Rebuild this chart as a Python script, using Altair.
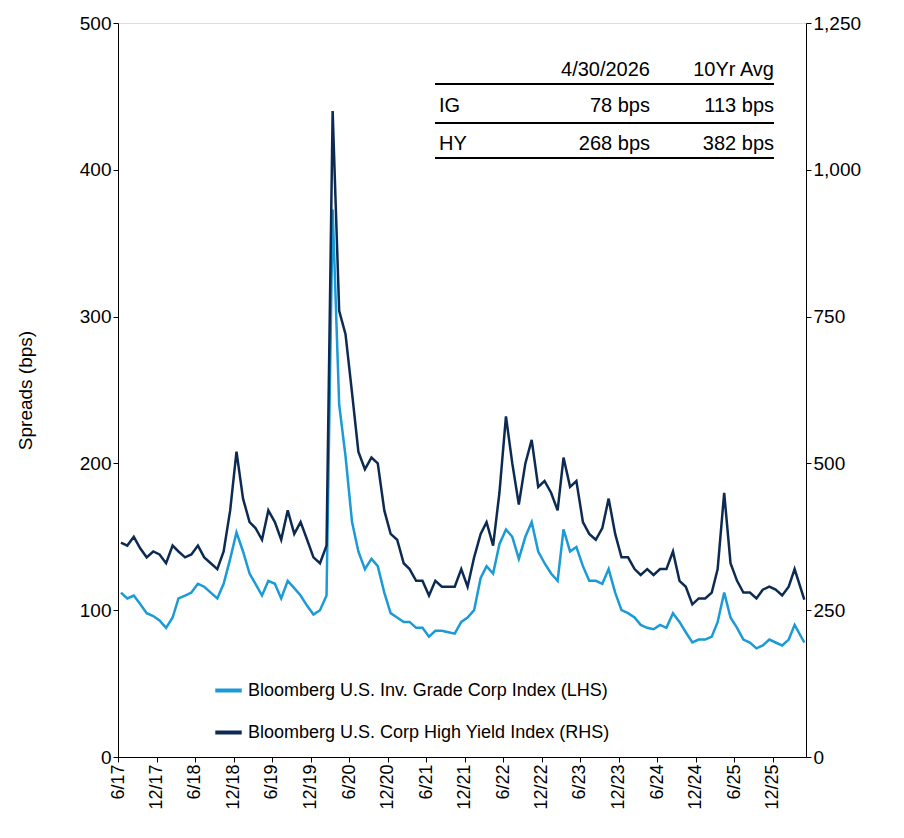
import altair as alt
import pandas as pd

# monthly spread readings, Jun 2017 - Apr 2026
ig = [112, 108, 110, 104, 98, 96, 93,
      88, 95, 108, 110, 112, 118, 116, 112, 108, 118, 135, 153,
      140, 125, 118, 110, 120, 118, 108, 120, 115, 110, 103, 97,
      100, 110, 373, 240, 205, 160, 140, 128, 135, 130, 112, 98,
      95, 92, 92, 88, 88, 82, 86, 86, 85, 84, 92, 95,
      100, 122, 130, 125, 145, 155, 150, 135, 150, 160, 140, 132,
      125, 120, 155, 140, 143, 130, 120, 120, 118, 128, 112, 100,
      98, 95, 90, 88, 87, 90, 88, 98, 92, 85, 78, 80,
      80, 82, 92, 112, 95, 88, 80, 78, 74, 76, 80, 78,
      76, 80, 90, 78]
hy = [365, 360, 375, 355, 340, 350, 345,
      330, 360, 350, 340, 345, 360, 340, 330, 320, 350, 420, 520,
      440, 400, 390, 370, 420, 400, 370, 420, 380, 400, 370, 340,
      330, 360, 1100, 760, 720, 620, 520, 490, 510, 500, 420, 380,
      370, 330, 320, 300, 300, 275, 300, 290, 290, 290, 320, 290,
      340, 380, 400, 360, 450, 580, 500, 430, 500, 540, 460, 470,
      450, 420, 510, 460, 470, 400, 380, 370, 390, 440, 380, 340,
      340, 320, 310, 320, 310, 320, 320, 350, 300, 290, 260, 270,
      270, 280, 320, 450, 330, 300, 280, 280, 270, 285, 290, 285,
      275, 290, 320, 268]

dates = pd.date_range("2017-06-01", periods=len(ig), freq="MS") + pd.Timedelta(days=14)
ig_name = "Bloomberg U.S. Inv. Grade Corp Index (LHS)"
hy_name = "Bloomberg U.S. Corp High Yield Index (RHS)"

df = pd.DataFrame({"date": dates, "ig": ig, "hy": hy, "s_ig": ig_name, "s_hy": hy_name})
df.loc[df.index[-1], "date"] = pd.Timestamp("2026-04-30")

tick_vals = [alt.DateTime(year=y, month=m, date=1) for y in range(2017, 2026) for m in (6, 12)]

font = "Liberation Sans"
color = alt.Color("series:N", scale=alt.Scale(domain=[ig_name, hy_name], range=["#1a9ad6", "#0d2b52"]),
                  legend=alt.Legend(title=None, orient="none", legendX=95, legendY=652, symbolType="stroke",
                                    symbolSize=700, symbolStrokeWidth=4, labelFontSize=18, labelFont=font,
                                    rowPadding=17, labelLimit=500))

xenc = alt.X("date:T", scale=alt.Scale(domain=[alt.DateTime(year=2017, month=6, date=1),
                                                alt.DateTime(year=2026, month=5, date=8)]),
             axis=alt.Axis(values=tick_vals, format="%-m/%y", labelAngle=-90, labelFontSize=18,
                           labelFont=font, labelColor="black", grid=False, title=None,
                           domainColor="black", tickColor="black", labelAlign="right", labelBaseline="middle"))

base = alt.Chart(df)
ig_line = base.mark_line(strokeWidth=2.5).transform_calculate(series="datum.s_ig").encode(
    x=xenc,
    y=alt.Y("ig:Q", scale=alt.Scale(domain=[0, 500]),
            axis=alt.Axis(values=[0, 100, 200, 300, 400, 500], title="Spreads (bps)", titleFontSize=19,
                          titleFontWeight="normal", titleFont=font, titlePadding=44, labelFontSize=19,
                          labelFont=font, labelColor="black", grid=False, domainColor="black",
                          tickColor="black")),
    color=color)
hy_line = base.mark_line(strokeWidth=2.5).transform_calculate(series="datum.s_hy").encode(
    x=xenc,
    y=alt.Y("hy:Q", scale=alt.Scale(domain=[0, 1250]),
            axis=alt.Axis(orient="right", values=[0, 250, 500, 750, 1000, 1250], format=",.0f", title=None,
                          labelFontSize=19, labelFont=font, labelColor="black", grid=False,
                          domainColor="black", tickColor="black")),
    color=color)

# summary table
cells = pd.DataFrame({
    "txt": ["4/30/2026", "10Yr Avg", "IG", "78 bps", "113 bps", "HY", "268 bps", "382 bps"],
    "px": [532, 656, 321, 532, 656, 321, 532, 656],
    "py": [47, 47, 83, 83, 83, 121, 121, 121],
    "al": ["right", "right", "left", "right", "right", "left", "right", "right"],
})
txt_layers = []
for a in ["left", "right"]:
    txt_layers.append(alt.Chart(cells[cells.al == a]).mark_text(
        align=a, baseline="middle", fontSize=20, font=font, color="black").encode(
        x=alt.X("px:Q", scale=None), y=alt.Y("py:Q", scale=None), text="txt:N"))
rules = pd.DataFrame({"x1": [317] * 3, "x2": [656] * 3, "yy": [61, 100, 135]})
rule_layer = alt.Chart(rules).mark_rule(color="black", strokeWidth=2).encode(
    x=alt.X("x1:Q", scale=None), x2="x2:Q", y=alt.Y("yy:Q", scale=None))

chart = alt.layer(ig_line, hy_line).resolve_scale(y="independent")
chart = alt.layer(chart, rule_layer, *txt_layers).properties(
    width=688, height=734, padding={"left": 8, "top": 6, "right": 5, "bottom": 5}).configure_view(
    stroke=None).configure(background="white")

chart.save("out.html", embed_options={"renderer": "svg", "actions": False})
